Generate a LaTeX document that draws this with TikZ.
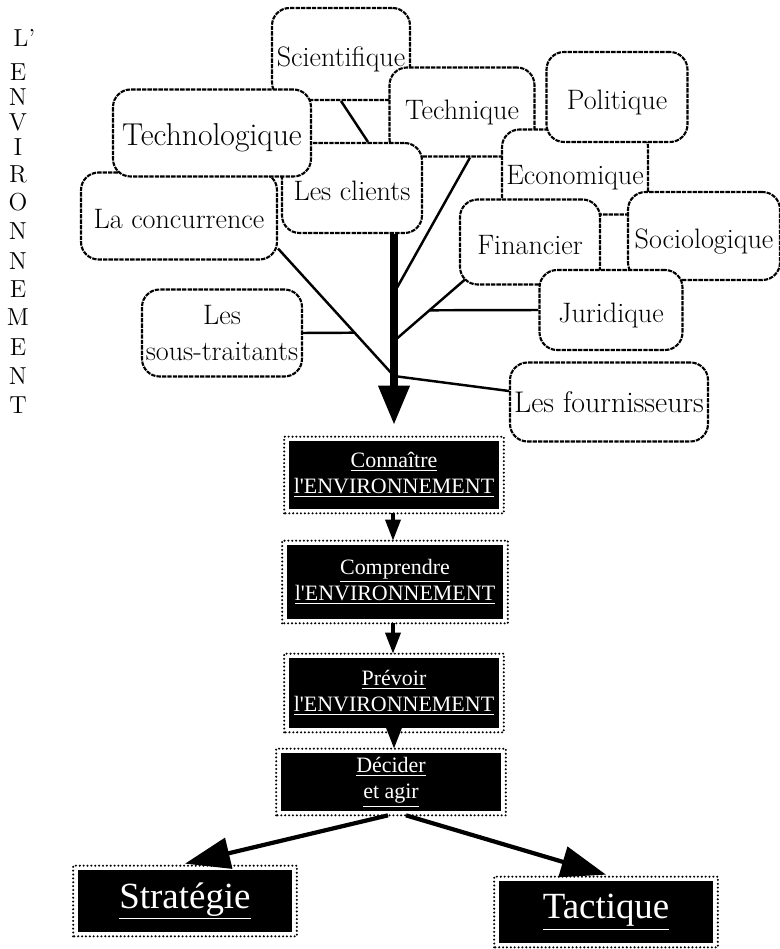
\documentclass[tikz,border=0pt]{standalone}
\usepackage{fontspec}
\newfontfamily\flowfont{Liberation Serif}
\usetikzlibrary{arrows.meta,calc}
\tikzset{
  envbox/.style={draw=black, line width=1.2pt, dash pattern=on 2.5pt off 0.6pt,
    rounded corners=0.35cm, fill=white, inner sep=0pt, align=center,
    font=\fontsize{16}{20}\selectfont},
  lowtext/.style={text height=0.62cm, text depth=0.1cm},
  flowbox/.style={fill=black, text=white, inner sep=0pt, align=center,
    font=\flowfont\fontsize{12.5}{15}\selectfont},
  dotframe/.style={draw=black, line width=1.3pt, line cap=round, dash pattern=on 0pt off 2.2pt},
  letter/.style={inner sep=0pt, font=\fontsize{14}{14}\selectfont},
  link/.style={line width=1.4pt},
  mainarrow/.style={line width=4pt, -{Triangle[width=0.6cm,length=0.78cm]}},
  flowarrow/.style={line width=2pt, -{Triangle[width=0.3cm,length=0.42cm]}},
  bigarrow/.style={line width=2.4pt, -{Triangle[width=0.62cm,length=0.9cm]}},
}
\begin{document}
\begin{tikzpicture}[x=0.02cm,y=-0.02cm]
  \fill[white] (0,0) rectangle (780,949);
  \useasboundingbox (0,0) rectangle (780,949);

  % vertical title
  \node[letter] (vL) at (21,38) {L\rlap{'}};
  \foreach \l/\y in {E/72,N/97,V/122,I/147,R/174,O/202,N/231,N/261,E/289,M/317,E/347,N/376,T/405}
    \node[letter] (v\y) at (18,\y) {\l};

  % the environment
  \node[envbox, lowtext, minimum width=2.76cm, minimum height=1.84cm] (sci) at (341,54) {Scientifique};
  \node[envbox, minimum width=2.90cm, minimum height=1.78cm] (tech) at (462,112) {Technique};
  \node[envbox, lowtext, minimum width=2.92cm, minimum height=1.70cm] (eco) at (575,172) {Economique};
  \node[envbox, lowtext, minimum width=2.82cm, minimum height=1.80cm] (pol) at (617,97) {Politique};
  \node[envbox, lowtext, minimum width=2.80cm, minimum height=1.70cm] (fin) at (530,242) {Financier};
  \node[envbox, lowtext, minimum width=3.04cm, minimum height=1.76cm] (soc) at (704,236) {Sociologique};
  \node[envbox, lowtext, minimum width=2.86cm, minimum height=1.60cm] (jur) at (611,310) {Juridique};
  \node[envbox, minimum width=3.96cm, minimum height=1.58cm,
        font=\fontsize{17}{20}\selectfont] (four) at (609,402) {Les fournisseurs};
  \node[envbox, lowtext, minimum width=3.92cm, minimum height=1.74cm] (conc) at (179,216) {La concurrence};
  \node[envbox, lowtext, minimum width=2.80cm, minimum height=1.80cm] (cli) at (352,188) {Les clients};
  \node[envbox, lowtext, minimum width=3.96cm, minimum height=1.74cm,
        font=\fontsize{18}{20}\selectfont] (techno) at (212,133) {Technologique};
  \node[envbox, minimum width=3.20cm, minimum height=1.74cm] (sous) at (222,333) {Les\\sous-traitants};

  % the steps
  \node[flowbox, minimum width=4.22cm, minimum height=1.36cm] (con) at (394,475)
    {\underline{Connaître}\\\underline{l'ENVIRONNEMENT}};
  \node[flowbox, minimum width=4.34cm, minimum height=1.48cm] (com) at (395,582)
    {\underline{Comprendre}\\\underline{l'ENVIRONNEMENT}};
  \node[flowbox, minimum width=4.22cm, minimum height=1.40cm] (pre) at (394,693)
    {\underline{Prévoir}\\\underline{l'ENVIRONNEMENT}};
  \node[flowbox, minimum width=4.42cm, minimum height=1.16cm] (dec) at (391,782)
    {\underline{Décider}\\\underline{et agir}};
  \node[flowbox, minimum width=4.30cm, minimum height=1.24cm,
        font=\flowfont\fontsize{21}{24}\selectfont] (stra) at (185,901) {\underline{Stratégie}};
  \node[flowbox, minimum width=4.30cm, minimum height=1.24cm,
        font=\flowfont\fontsize{21}{24}\selectfont] (tac) at (606,912) {\underline{Tactique}};
  \foreach \n in {con,com,pre,dec,stra,tac}
    \draw[dotframe] ($(\n.south west)+(-4,4)$) rectangle ($(\n.north east)+(4,-4)$);

  % links to the main arrow
  \coordinate (tip) at ($(con.north)+(0,-16)$);
  \coordinate (j1) at (cli.south -| tip);
  \coordinate (j2) at ($(j1)+(0,59)$);
  \coordinate (j3) at ($(j1)+(0,107)$);
  \coordinate (j4) at ($(j1)+(0,142)$);
  \coordinate (f0) at ($(fin.south west)+(6,-6)$);
  \coordinate (c0) at ($(conc.south east)+(0,-12)$);
  \draw[link] (sci.south) -- ($(cli.north)+(16,0)$);
  \draw[link] ($(tech.south)+(8,0)$) -- (j2);
  \draw[link] (f0) -- (j3);
  \draw[link] (jur.west) -- ($(f0)!0.5!(j3)$);
  \draw[link] (c0) -- (j4);
  \draw[link] (sous.east) -- ($(c0)!0.66!(j4)$);
  \draw[link] (j4) -- ($(four.west)+(0,-11)$);
  \draw[mainarrow] (j1) -- (tip);

  % the steps
  \draw[flowarrow] ($(con.south)+(-1,4)$) -- ($(com.north)+(-2,-4)$);
  \draw[flowarrow] ($(com.south)+(-2,4)$) -- ($(pre.north)+(-1,-4)$);
  \draw[flowarrow] ($(pre.south)+(0,4)$) -- ($(dec.north)+(3,-4)$);
  \draw[bigarrow] ($(dec.south)+(-3,4)$) -- ($(stra.north)+(0,-6)$);
  \draw[bigarrow] ($(dec.south)+(15,4)$) -- ($(tac.north)+(0,-6)$);
\end{tikzpicture}
\end{document}
